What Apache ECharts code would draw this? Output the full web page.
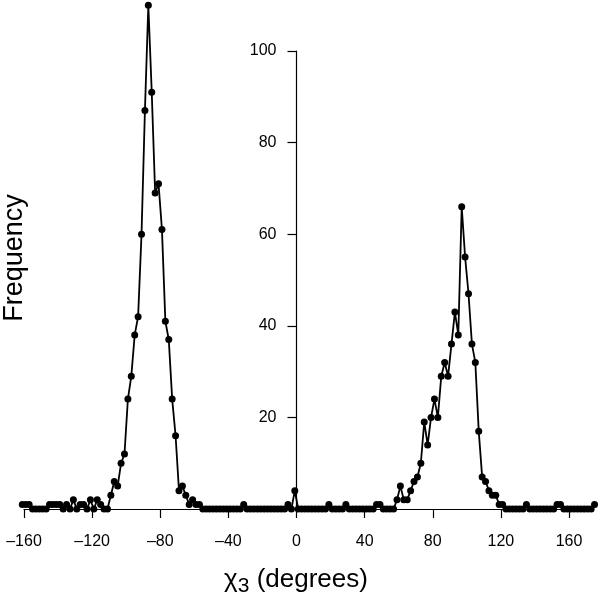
<!DOCTYPE html>
<html>
<head>
<meta charset="utf-8">
<script src="https://cdn.jsdelivr.net/npm/echarts@6/dist/echarts.min.js"></script>
<style>
  html, body { margin: 0; padding: 0; background: #fff; }
  #chart { width: 600px; height: 605px; }
</style>
</head>
<body>
<div id="chart"></div>
<script>
// bin centres (degrees)
const angles = [
  -161, -159, -157, -155, -153, -151, -149, -147, -145, -143, -141, -139, -137, -135, -133, -131,
  -129, -127, -125, -123, -121, -119, -117, -115, -113, -111, -109, -107, -105, -103, -101, -99,
  -97, -95, -93, -91, -89, -87, -85, -83, -81, -79, -77, -75, -73, -71, -69, -67,
  -65, -63, -61, -59, -57, -55, -53, -51, -49, -47, -45, -43, -41, -39, -37, -35,
  -33, -31, -29, -27, -25, -23, -21, -19, -17, -15, -13, -11, -9, -7, -5, -3,
  -1, 1, 3, 5, 7, 9, 11, 13, 15, 17, 19, 21, 23, 25, 27, 29,
  31, 33, 35, 37, 39, 41, 43, 45, 47, 49, 51, 53, 55, 57, 59, 61,
  63, 65, 67, 69, 71, 73, 75, 77, 79, 81, 83, 85, 87, 89, 91, 93,
  95, 97, 99, 101, 103, 105, 107, 109, 111, 113, 115, 117, 119, 121, 123, 125,
  127, 129, 131, 133, 135, 137, 139, 141, 143, 145, 147, 149, 151, 153, 155, 157,
  159, 161, 163, 165, 167, 169, 171, 173, 175
]
// frequency per bin, same order as angles
const counts = [
  1, 1, 1, 0, 0, 0, 0, 0, 1, 1, 1, 1, 0, 1, 0, 2,
  0, 1, 1, 0, 2, 0, 2, 1, 0, 0, 3, 6, 5, 10, 12, 24,
  29, 38, 42, 60, 87, 110, 91, 69, 71, 61, 41, 37, 24, 16, 4, 5,
  3, 1, 2, 1, 1, 0, 0, 0, 0, 0, 0, 0, 0, 0, 0, 0,
  0, 1, 0, 0, 0, 0, 0, 0, 0, 0, 0, 0, 0, 0, 1, 0,
  4, 0, 0, 0, 0, 0, 0, 0, 0, 0, 1, 0, 0, 0, 0, 1,
  0, 0, 0, 0, 0, 0, 0, 0, 1, 1, 0, 0, 0, 0, 2, 5,
  2, 2, 4, 6, 7, 10, 19, 14, 20, 24, 20, 29, 32, 29, 36, 43,
  38, 66, 55, 47, 36, 32, 17, 7, 6, 4, 3, 3, 1, 1, 0, 0,
  0, 0, 0, 0, 1, 0, 0, 0, 0, 0, 0, 0, 0, 1, 1, 0,
  0, 0, 0, 0, 0, 0, 0, 0, 1
]
const xTicks = [-160, -120, -80, -40, 0, 40, 80, 120, 160]
const yTicks = [0, 20, 40, 60, 80, 100]

const font = 'Liberation Sans, Arial, Helvetica, sans-serif'
const chart = echarts.init(document.getElementById('chart'))

// grid spans -160..160 horizontally, y axis is drawn at x = 0
const gridLeft = 24
const gridRight = 31
const zeroX = gridLeft + (600 - gridLeft - gridRight) * (0 - xTicks[0]) / (xTicks[xTicks.length - 1] - xTicks[0])

const option = {
  animation: false,
  backgroundColor: '#fff',
  grid: {
    left: gridLeft,
    right: gridRight,
    top: 51,
    bottom: 96,
    containLabel: false,
    outerBoundsMode: 'none'
  },
  xAxis: {
    type: 'value',
    min: xTicks[0],
    max: xTicks[xTicks.length - 1],
    interval: 40,
    splitLine: { show: false },
    axisLine: { onZero: false, lineStyle: { color: '#000', width: 1.2 } },
    axisTick: { length: 9, lineStyle: { color: '#000', width: 1.2 } },
    axisLabel: {
      margin: 25,
      color: '#000',
      fontSize: 16,
      fontFamily: font,
      formatter: v => String(v).replace('-', '\u2013')
    }
  },
  yAxis: {
    type: 'value',
    position: 'left',
    offset: -(zeroX - gridLeft),
    min: yTicks[0],
    max: yTicks[yTicks.length - 1],
    interval: 20,
    splitLine: { show: false },
    axisLine: { onZero: false, lineStyle: { color: '#000', width: 1.2 } },
    axisTick: { length: 9, lineStyle: { color: '#000', width: 1.2 } },
    axisLabel: {
      margin: 20,
      showMinLabel: false,
      color: '#000',
      fontSize: 16,
      fontFamily: font
    }
  },
  graphic: [
    {
      type: 'text',
      x: 15,
      y: 258,
      rotation: Math.PI / 2,
      style: {
        text: 'Frequency',
        fill: '#000',
        font: '27px ' + font,
        align: 'center',
        verticalAlign: 'middle'
      }
    },
    {
      type: 'text',
      x: 296,
      y: 580,
      style: {
        text: '{a|\u03c7}{b|3}{a| (degrees)}',
        align: 'center',
        verticalAlign: 'middle',
        rich: {
          a: { fontSize: 26, fontFamily: font, fill: '#000', color: '#000' },
          b: { fontSize: 21, fontFamily: font, fill: '#000', color: '#000', padding: [12, 0, 0, 0] }
        }
      }
    }
  ],
  series: [
    {
      type: 'line',
      data: angles.map((a, i) => [a, counts[i]]),
      clip: false,
      symbol: 'circle',
      symbolSize: 7,
      showAllSymbol: true,
      itemStyle: { color: '#000' },
      lineStyle: { color: '#000', width: 1.8 }
    }
  ]
}
chart.setOption(option)
</script>
</body>
</html>
